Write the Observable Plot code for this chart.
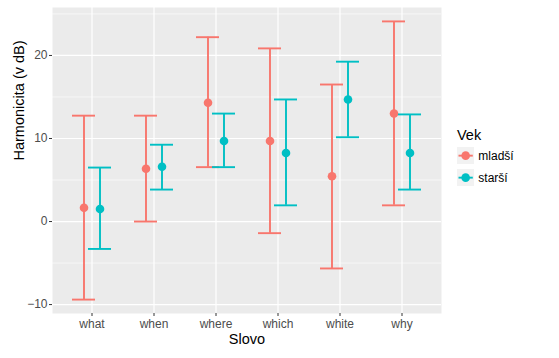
<!DOCTYPE html>
<html>
<head>
<meta charset="utf-8">
<script src="https://cdn.jsdelivr.net/npm/d3@7"></script>
<script src="https://cdn.jsdelivr.net/npm/@observablehq/plot@0.6"></script>
<style>
  body { margin: 0; background: #fff; font-family: "Liberation Sans", Arial, sans-serif; }
  #wrap { position: relative; width: 559px; height: 358px; }
  #legend { position: absolute; left: 457px; top: 125px; font-family: "Liberation Sans", Arial, sans-serif; }
  #legend .title { font-size: 14.5px; color: #000; height: 20px; line-height: 20px; }
  #legend .row { display: flex; align-items: center; height: 21.7px; }
  #legend .row span { font-size: 12px; color: #000; margin-left: 4px; }
</style>
</head>
<body>
<div id="wrap"></div>
<script>
const words = ["what", "when", "where", "which", "white", "why"];
const groups = ["mladší", "starší"];
const colors = ["#F8766D", "#00BFC4"];
const mladsiMean = [1.65, 6.35, 14.3, 9.7, 5.45, 13.0];
const mladsiLow  = [-9.4, 0.0, 6.55, -1.4, -5.65, 1.95];
const mladsiHigh = [12.75, 12.75, 22.2, 20.85, 16.5, 24.1];
const starsiMean = [1.5, 6.6, 9.7, 8.25, 14.7, 8.25];
const starsiLow  = [-3.3, 3.85, 6.55, 1.95, 10.15, 3.85];
const starsiHigh = [6.5, 9.25, 13.0, 14.7, 19.25, 12.9];
const yTicks = [-10, 0, 10, 20];
const yMinor = [-5, 5, 15, 25];

const series = [
  {name: groups[0], color: colors[0], dx: -8, mean: mladsiMean, low: mladsiLow, high: mladsiHigh},
  {name: groups[1], color: colors[1], dx: 8, mean: starsiMean, low: starsiLow, high: starsiHigh}
];

const marks = [
  Plot.frame({fill: "#EBEBEB", stroke: null}),
  Plot.ruleY(yMinor, {stroke: "white", strokeWidth: 0.6}),
  Plot.ruleY(yTicks, {stroke: "white", strokeWidth: 1.2}),
  Plot.ruleX(words, {x: d => d, stroke: "white", strokeWidth: 1.2}),
  Plot.axisY({ticks: yTicks, tickSize: 3, tickPadding: 2, stroke: "#333333", fill: "#4D4D4D", fontSize: 12, label: null}),
  Plot.axisX({tickSize: 3, tickPadding: 3, stroke: "#333333", fill: "#4D4D4D", fontSize: 12, label: null}),
  Plot.text(["Harmonicita (v dB)"], {frameAnchor: "left", dx: -33, rotate: -90, fontSize: 14.5, fill: "#000"}),
  Plot.text(["Slovo"], {frameAnchor: "bottom", dy: 30, fontSize: 14.5, fill: "#000"})
];

for (const s of series) {
  const data = words.map((w, i) => ({word: w, mean: s.mean[i], low: s.low[i], high: s.high[i]}));
  marks.push(
    Plot.ruleX(data, {x: "word", y1: "low", y2: "high", stroke: s.color, strokeWidth: 1.9, dx: s.dx}),
    Plot.tickY(data, {x: "word", y: "low", stroke: s.color, strokeWidth: 1.9, dx: s.dx}),
    Plot.tickY(data, {x: "word", y: "high", stroke: s.color, strokeWidth: 1.9, dx: s.dx}),
    Plot.dot(data, {x: "word", y: "mean", fill: s.color, r: 4.3, dx: s.dx})
  );
}

const chart = Plot.plot({
  width: 559,
  height: 358,
  marginLeft: 52,
  marginRight: 118,
  marginTop: 7,
  marginBottom: 45,
  style: {fontFamily: "Liberation Sans, Arial, sans-serif", fontSize: "12px", background: "white"},
  x: {type: "band", domain: words, paddingInner: 0.633, paddingOuter: 0.4165, align: 0.5},
  y: {domain: [-11.075, 25.775]},
  marks
});

const wrap = document.getElementById("wrap");
wrap.appendChild(chart);

const legend = document.createElement("div");
legend.id = "legend";
let html = '<div class="title">Vek</div>';
series.forEach(s => {
  html += '<div class="row"><svg width="17.3" height="17.3">' +
    '<rect x="0" y="0" width="17.3" height="17.3" fill="#F2F2F2"/>' +
    '<line x1="1.5" x2="15.8" y1="8.65" y2="8.65" stroke="' + s.color + '" stroke-width="1.9"/>' +
    '<circle cx="8.65" cy="8.65" r="4.3" fill="' + s.color + '"/></svg><span>' + s.name + '</span></div>';
});
legend.innerHTML = html;
wrap.appendChild(legend);
</script>
</body>
</html>
